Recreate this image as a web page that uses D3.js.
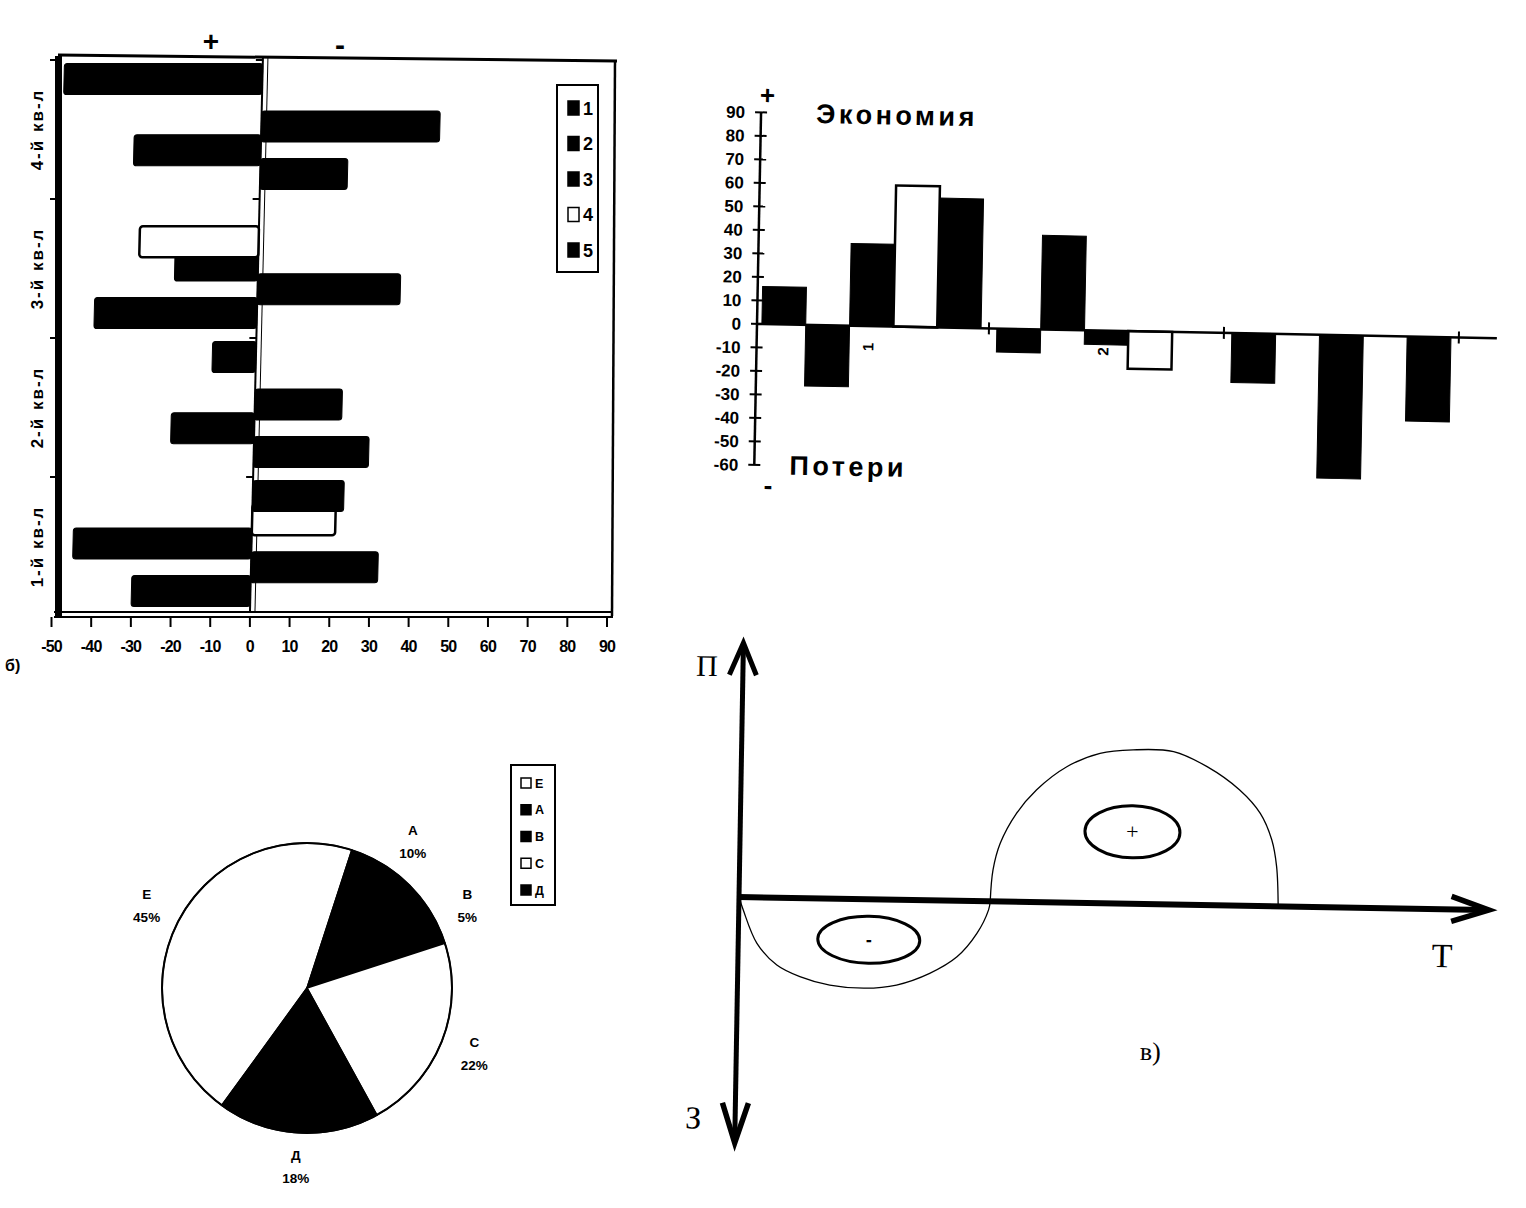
<!DOCTYPE html>
<html><head><meta charset="utf-8">
<script src="https://cdn.jsdelivr.net/npm/d3@7"></script>
<style>body{margin:0;background:#fff}svg{display:block}</style>
</head><body>
<svg id="c" width="1526" height="1208"></svg>
<script>
// ---------- DATA ----------
// Left chart (horizontal bars), quarters bottom -> top
const quarters = ["1-й кв-л", "2-й кв-л", "3-й кв-л", "4-й кв-л"];
const seriesNames = ["1", "2", "3", "4", "5"];
const s1 = [-30, 29, -41, 22];
const s2 = [32, -21, 36, -32];
const s3 = [-45, 22, -21, 45];
const s4 = [21, 0, -30, 0];
const s5 = [23, -11, 0, -50];
const leftTicks = [-50, -40, -30, -20, -10, 0, 10, 20, 30, 40, 50, 60, 70, 80, 90];

// Right chart (columns)
const groups = ["1", "2", "3"];
const groupLabels = ["1", "2", ""];
const e1 = [16, -10, -21];
const e2 = [-26, 40, 0];
const e3 = [35, -6, -61];
const e4 = [60, -16, 0];
const e5 = [55, 0, -36];
const rightTicks = [90, 80, 70, 60, 50, 40, 30, 20, 10, 0, -10, -20, -30, -40, -50, -60];

// Pie
const pieNames = ["Е", "А", "В", "С", "Д"];
const pieValues = [45, 10, 5, 22, 18];
const pieFills = ["#fff", "#000", "#000", "#fff", "#000"];

// Diagram curve (T, value)
const lossCurve = [[0,0],[0.6,-5.2],[2.5,-18.4],[5.2,-26.9],[8.3,-31.4],[12.3,-34.6],[17.0,-35.6],[21.2,-34.1],[25.6,-29.2],[29.2,-22.4],[31.8,-12.9],[33.3,-3.4],[33.5,0]];
const gainCurve = [[33.5,0],[33.8,12.6],[34.7,23.3],[36.8,35.4],[39.4,44.9],[43.4,54.4],[47.8,60.0],[52.2,61.6],[57.6,61.2],[62.1,55.4],[66.5,46.3],[69.3,37.1],[70.9,26.5],[71.6,15.9],[71.9,0]];
const lossZone = [17.4, -16.2];
const gainZone = [52.3, 28.8];

// ---------- DRAW ----------
const SANS = "'Liberation Sans', Arial, sans-serif";
const SERIF = "'Liberation Serif', 'Times New Roman', serif";
const svg = d3.select("#c");
svg.append("rect").attr("width", 1526).attr("height", 1208).attr("fill", "#fff");

// ===== LEFT CHART =====
const L = svg.append("g");
const xL = d3.scaleLinear().domain([-50, 90]).range([51.5, 607]);
const yL = d3.scaleBand().domain(quarters.slice().reverse()).range([60, 616]);
const sOff = d3.scaleLinear().domain([0, 4]).range([25, 120]);
const leftSeries = [s1, s2, s3, s4, s5];

// frame
L.append("path").attr("d", "M58,55 L617,61").attr("stroke", "#000").attr("stroke-width", 3).attr("fill", "none");
L.append("path").attr("d", "M615,60 L612,616").attr("stroke", "#000").attr("stroke-width", 2.5).attr("fill", "none");
L.append("path").attr("d", "M54,612 L613,612 M54,617 L613,617").attr("stroke", "#000").attr("stroke-width", 2).attr("fill", "none");
L.append("rect").attr("x", 55).attr("y", 56).attr("width", 7).attr("height", 562).attr("fill", "#000");
yL.domain().forEach(q => {
  L.append("line").attr("x1", 50).attr("x2", 56).attr("y1", yL(q)).attr("y2", yL(q)).attr("stroke", "#000").attr("stroke-width", 2);
});

// bars (slight perspective skew)
const skewDeg = -Math.atan(0.0234) * 180 / Math.PI;
const B = L.append("g").attr("transform", `translate(0,615) skewX(${skewDeg}) translate(0,-615)`);
B.append("line").attr("x1", xL(0)).attr("x2", xL(0)).attr("y1", 58).attr("y2", 612).attr("stroke", "#000").attr("stroke-width", 2);
B.append("line").attr("x1", xL(0) + 5).attr("x2", xL(0) + 5).attr("y1", 58).attr("y2", 612).attr("stroke", "#000").attr("stroke-width", 1);
yL.domain().forEach(q => {
  B.append("line").attr("x1", xL(0) - 7).attr("x2", xL(0)).attr("y1", yL(q)).attr("y2", yL(q)).attr("stroke", "#000").attr("stroke-width", 2);
});
leftSeries.forEach((ser, i) => {
  quarters.forEach((q, j) => {
    const v = ser[j];
    if (v === 0) return;
    const yc = yL(q) + yL.bandwidth() - sOff(i);
    const white = i === 3;
    B.append("rect")
      .attr("x", Math.min(xL(0), xL(v))).attr("width", Math.abs(xL(v) - xL(0)))
      .attr("y", yc - 15.5).attr("height", 31).attr("rx", 3)
      .attr("fill", white ? "#fff" : "#000")
      .attr("stroke", "#000").attr("stroke-width", white ? 2.5 : 1);
  });
});

// x axis
leftTicks.forEach(t => {
  L.append("line").attr("x1", xL(t)).attr("x2", xL(t)).attr("y1", 617).attr("y2", 627).attr("stroke", "#000").attr("stroke-width", 2);
  L.append("text").attr("x", xL(t)).attr("y", 652).attr("text-anchor", "middle")
    .attr("font-family", SANS).attr("font-weight", "bold").attr("font-size", 16).attr("letter-spacing", -0.8)
    .text(t);
});
quarters.forEach(q => {
  const cy = yL(q) + yL.bandwidth() / 2;
  L.append("text").attr("transform", `translate(37,${cy}) rotate(-90)`).attr("text-anchor", "middle").attr("dy", "0.35em")
    .attr("font-family", SANS).attr("font-weight", "bold").attr("font-size", 17).attr("letter-spacing", 2)
    .text(q);
});
// legend
L.append("rect").attr("x", 557).attr("y", 85).attr("width", 41).attr("height", 187).attr("fill", "#fff").attr("stroke", "#000").attr("stroke-width", 2);
const legY = d3.scaleLinear().domain([0, 4]).range([108, 250]);
seriesNames.forEach((n, i) => {
  const white = i === 3;
  L.append("rect").attr("x", 568).attr("y", legY(i) - 7).attr("width", 11).attr("height", 14)
    .attr("fill", white ? "#fff" : "#000").attr("stroke", "#000").attr("stroke-width", 1.5);
  L.append("text").attr("x", 583).attr("y", legY(i) + 6.5).attr("font-family", SANS).attr("font-weight", "bold").attr("font-size", 18).text(n);
});
L.append("text").attr("x", 211).attr("y", 51).attr("text-anchor", "middle").attr("font-family", SANS).attr("font-weight", "bold").attr("font-size", 28).text("+");
L.append("text").attr("x", 340).attr("y", 55).attr("text-anchor", "middle").attr("font-family", SANS).attr("font-weight", "bold").attr("font-size", 30).text("-");
L.append("text").attr("x", 5).attr("y", 671).attr("font-family", SANS).attr("font-weight", "bold").attr("font-size", 16).text("б)");

// ===== RIGHT CHART =====
const yR = d3.scaleLinear().domain([-60, 90]).range([465, 112.3]);
const R = svg.append("g").attr("transform", `rotate(1.1,757,${yR(0)})`);
const xR = d3.scaleBand().domain(groups).range([754, 1459]);
const xS = d3.scaleBand().domain(d3.range(5)).range([0, xR.bandwidth()]).paddingOuter(0.18);
const rightSeries = [e1, e2, e3, e4, e5];
rightSeries.forEach((ser, i) => {
  groups.forEach((g, j) => {
    const v = ser[j];
    if (v === 0) return;
    const white = i === 3;
    R.append("rect").attr("x", xR(g) + xS(i)).attr("width", xS.bandwidth())
      .attr("y", Math.min(yR(v), yR(0))).attr("height", Math.abs(yR(v) - yR(0)))
      .attr("fill", white ? "#fff" : "#000").attr("stroke", "#000").attr("stroke-width", white ? 2.5 : 1);
  });
});
R.append("line").attr("x1", 757).attr("x2", 1497).attr("y1", yR(0)).attr("y2", yR(0)).attr("stroke", "#000").attr("stroke-width", 2.5);
groups.forEach(g => {
  const xb = xR(g) + xR.bandwidth();
  R.append("line").attr("x1", xb).attr("x2", xb).attr("y1", yR(0) - 6).attr("y2", yR(0) + 6).attr("stroke", "#000").attr("stroke-width", 2);
});
groups.forEach((g, j) => {
  if (!groupLabels[j]) return;
  R.append("text").attr("transform", `translate(${xR(g) + xR.bandwidth() / 2 - 3},${yR(0) + 21}) rotate(-90)`)
    .attr("text-anchor", "middle").attr("dy", "0.35em")
    .attr("font-family", SANS).attr("font-weight", "bold").attr("font-size", 15).text(groupLabels[j]);
});
R.append("line").attr("x1", 757).attr("x2", 757).attr("y1", yR(90)).attr("y2", yR(-60)).attr("stroke", "#000").attr("stroke-width", 2.5);
rightTicks.forEach(t => {
  R.append("line").attr("x1", 751).attr("x2", 763).attr("y1", yR(t)).attr("y2", yR(t)).attr("stroke", "#000").attr("stroke-width", 2);
  R.append("text").attr("x", 741).attr("y", yR(t) + 6).attr("text-anchor", "end")
    .attr("font-family", SANS).attr("font-weight", "bold").attr("font-size", 17).text(t);
});
R.append("text").attr("x", 763).attr("y", 104).attr("text-anchor", "middle").attr("font-family", SANS).attr("font-weight", "bold").attr("font-size", 26).text("+");
R.append("text").attr("x", 893).attr("y", 122).attr("text-anchor", "middle").attr("font-family", SANS).attr("font-weight", "bold").attr("font-size", 27).attr("letter-spacing", 3.5).text("Экономия");
R.append("text").attr("x", 851).attr("y", 474).attr("text-anchor", "middle").attr("font-family", SANS).attr("font-weight", "bold").attr("font-size", 27).attr("letter-spacing", 3.5).text("Потери");
R.append("text").attr("x", 771).attr("y", 494).attr("text-anchor", "middle").attr("font-family", SANS).attr("font-weight", "bold").attr("font-size", 26).text("-");

// ===== PIE =====
const P = svg.append("g").attr("transform", "translate(307,988)");
const pie = d3.pie().sort(null).value(d => d).startAngle(-144 * Math.PI / 180).endAngle(216 * Math.PI / 180);
const arc = d3.arc().innerRadius(0).outerRadius(145);
const lblArc = d3.arc().innerRadius(180).outerRadius(180);
const arcs = pie(pieValues);
P.selectAll("path.s").data(arcs).join("path").attr("class", "s").attr("d", arc)
  .attr("fill", (d, i) => pieFills[i]).attr("stroke", "#000").attr("stroke-width", 1.5);
P.append("circle").attr("r", 145).attr("fill", "none").attr("stroke", "#000").attr("stroke-width", 2);
arcs.forEach((d, i) => {
  const [cx, cy] = lblArc.centroid(d);
  P.append("text").attr("x", cx).attr("y", cy - 7.5).attr("text-anchor", "middle").attr("font-family", SANS).attr("font-weight", "bold").attr("font-size", 13.5).text(pieNames[i]);
  P.append("text").attr("x", cx).attr("y", cy + 15.5).attr("text-anchor", "middle").attr("font-family", SANS).attr("font-weight", "bold").attr("font-size", 13.5).text(pieValues[i] + "%");
});
svg.append("rect").attr("x", 511).attr("y", 765).attr("width", 44).attr("height", 140).attr("fill", "#fff").attr("stroke", "#000").attr("stroke-width", 2);
const pLegY = d3.scaleLinear().domain([0, 4]).range([783, 890]);
pieNames.forEach((n, i) => {
  svg.append("rect").attr("x", 521).attr("y", pLegY(i) - 5).attr("width", 10).attr("height", 10)
    .attr("fill", pieFills[i]).attr("stroke", "#000").attr("stroke-width", 1.5);
  svg.append("text").attr("x", 535).attr("y", pLegY(i) + 4.5).attr("font-family", SANS).attr("font-weight", "bold").attr("font-size", 12.5).text(n);
});

// ===== DIAGRAM =====
const D = svg.append("g").attr("transform", "translate(739,897) rotate(1.0)");
const xD = d3.scaleLinear().domain([0, 100]).range([0, 750]);
const yD = d3.scaleLinear().domain([-100, 100]).range([250, -250]);
const line = d3.line().x(d => xD(d[0])).y(d => yD(d[1])).curve(d3.curveCatmullRom);
D.append("path").attr("d", line(lossCurve)).attr("fill", "none").attr("stroke", "#000").attr("stroke-width", 1.3);
D.append("path").attr("d", line(gainCurve)).attr("fill", "none").attr("stroke", "#000").attr("stroke-width", 1.3);
D.append("line").attr("x1", 0).attr("y1", -252).attr("x2", 0).attr("y2", 244).attr("stroke", "#000").attr("stroke-width", 5);
D.append("path").attr("d", "M-13.5,-222 L0,-254 L13.5,-222").attr("fill", "none").attr("stroke", "#000").attr("stroke-width", 5).attr("stroke-linejoin", "miter");
D.append("path").attr("d", "M-13,206 L0,246 L13,206").attr("fill", "none").attr("stroke", "#000").attr("stroke-width", 5.5).attr("stroke-linejoin", "miter");
D.append("line").attr("x1", 0).attr("y1", 0).attr("x2", xD(99.5)).attr("y2", 0).attr("stroke", "#000").attr("stroke-width", 6);
D.append("path").attr("d", `M${xD(95)},-13 L${xD(100)},0 L${xD(95)},12`).attr("fill", "none").attr("stroke", "#000").attr("stroke-width", 5.5).attr("stroke-linejoin", "miter");
D.append("ellipse").attr("cx", xD(lossZone[0])).attr("cy", yD(lossZone[1])).attr("rx", 51).attr("ry", 23.5).attr("fill", "none").attr("stroke", "#000").attr("stroke-width", 3);
D.append("ellipse").attr("cx", xD(gainZone[0])).attr("cy", yD(gainZone[1])).attr("rx", 47.5).attr("ry", 26).attr("fill", "none").attr("stroke", "#000").attr("stroke-width", 3);
D.append("text").attr("x", xD(lossZone[0])).attr("y", yD(lossZone[1]) + 6).attr("text-anchor", "middle").attr("font-family", SANS).attr("font-weight", "bold").attr("font-size", 18).text("-");
D.append("text").attr("x", xD(gainZone[0])).attr("y", yD(gainZone[1]) + 7).attr("text-anchor", "middle").attr("font-family", SERIF).attr("font-size", 22).text("+");
D.append("text").attr("x", -36).attr("y", -231).attr("dy", "0.35em").attr("text-anchor", "middle").attr("font-family", SERIF).attr("font-size", 30).text("П");
D.append("text").attr("x", -42).attr("y", 221).attr("dy", "0.35em").attr("text-anchor", "middle").attr("font-family", SERIF).attr("font-size", 32).text("З");
D.append("text").attr("x", 704).attr("y", 46).attr("dy", "0.35em").attr("text-anchor", "middle").attr("font-family", SERIF).attr("font-size", 34).text("Т");
D.append("text").attr("x", 414).attr("y", 147).attr("dy", "0.35em").attr("text-anchor", "middle").attr("font-family", SERIF).attr("font-size", 26).text("в)");
</script>
</body></html>
